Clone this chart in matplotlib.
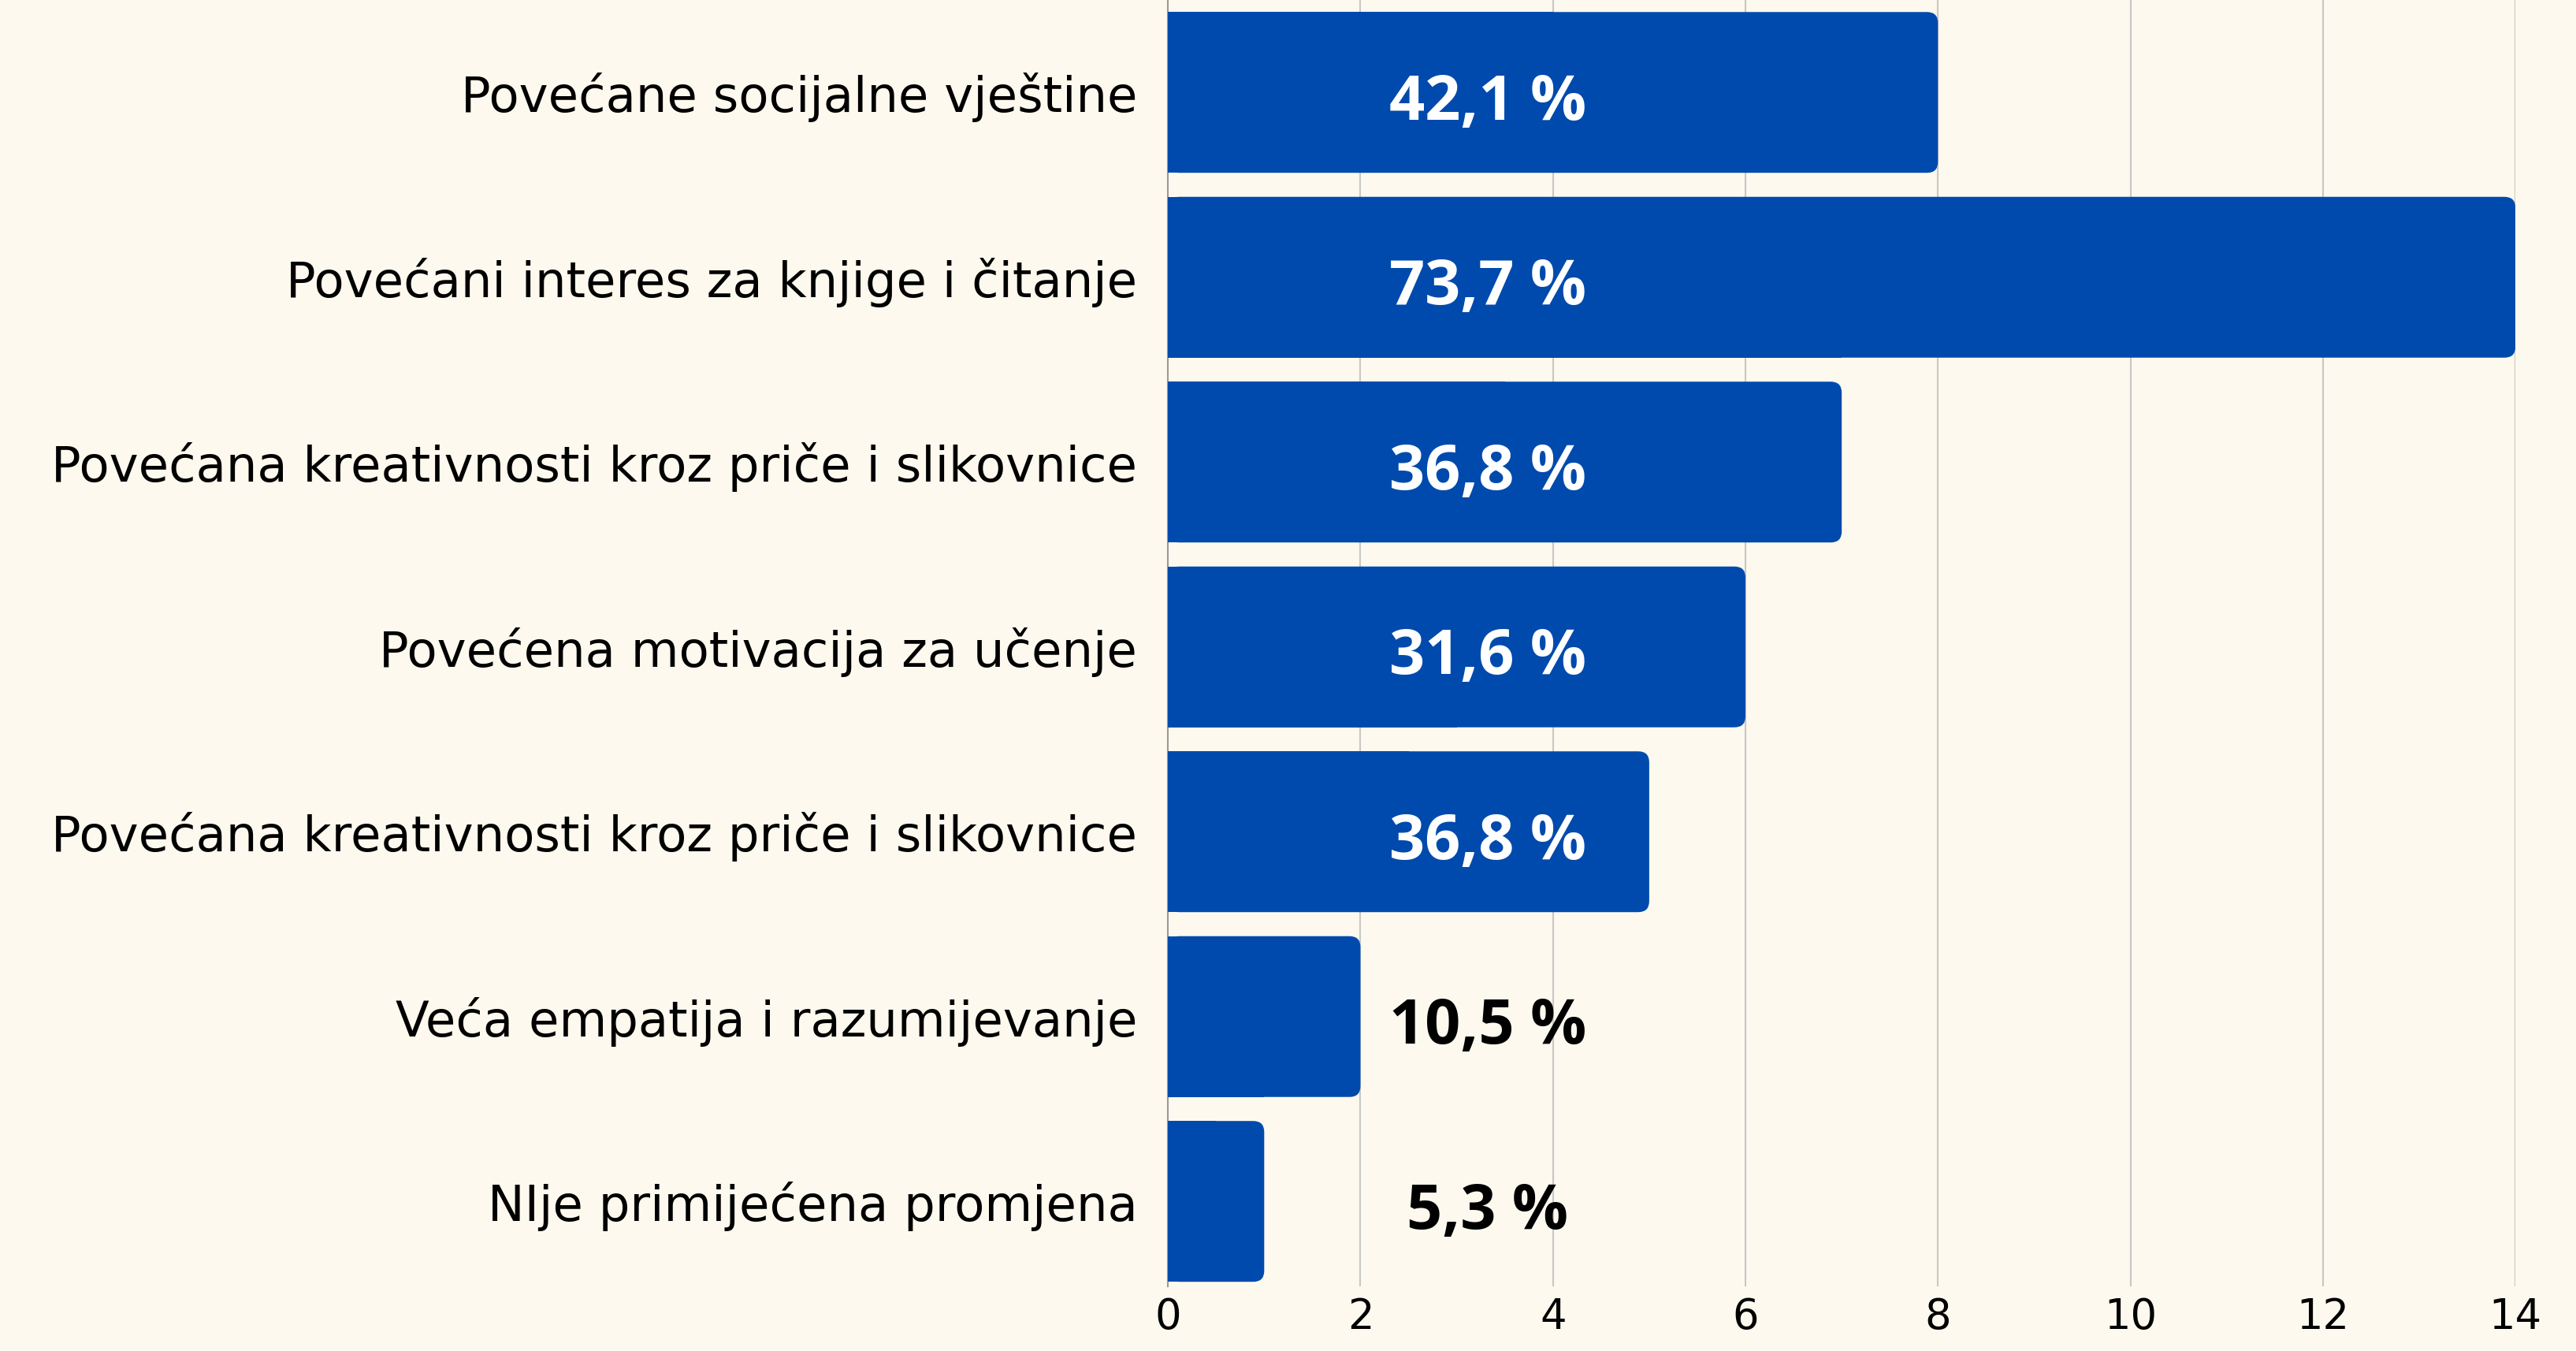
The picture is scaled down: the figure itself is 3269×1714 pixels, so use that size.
import matplotlib
matplotlib.use("Agg")
import matplotlib.pyplot as plt
from matplotlib.patches import FancyBboxPatch, Rectangle

categories = [
    "Povećane socijalne vještine",
    "Povećani interes za knjige i čitanje",
    "Povećana kreativnosti kroz priče i slikovnice",
    "Povećena motivacija za učenje",
    "Povećana kreativnosti kroz priče i slikovnice",
    "Veća empatija i razumijevanje",
    "NIje primijećena promjena",
]
counts = [8, 14, 7, 6, 5, 2, 1]
pct_labels = ["42,1 %", "73,7 %", "36,8 %", "31,6 %", "36,8 %", "10,5 %", "5,3 %"]
x_ticks = [0, 2, 4, 6, 8, 10, 12, 14]

bg = "#FDF9EE"
bar_color = "#004AAD"
bar_h = 0.87

fig = plt.figure(figsize=(32.69, 17.14), dpi=100, facecolor=bg)
ax = fig.add_axes([0.4534, 0.0478, 0.5231, 0.9522], facecolor=bg)

ax.set_xlim(0, 14)
ax.set_ylim(6.46, -0.5)

# px per data unit, used to keep the corner rounding circular
x_unit = 0.5231 * 3269 / 14
y_unit = 0.9522 * 1714 / 6.96
r = 14 / x_unit  # rounding radius in x data units

for i, v in enumerate(counts):
    y0 = i - bar_h / 2
    ax.add_patch(FancyBboxPatch((0, y0), v, bar_h,
                                boxstyle=f"round,pad=0,rounding_size={r}",
                                mutation_aspect=x_unit / y_unit,
                                fc=bar_color, ec="none", zorder=3))
    ax.add_patch(Rectangle((0, y0), v / 2, bar_h, fc=bar_color, ec="none", zorder=3))
    txt_color = "white" if v > 3.5 else "black"
    ax.text(3.32, i + 0.06, pct_labels[i], ha="center", va="center",
            fontsize=57, fontweight="bold", family="Open Sans",
            color=txt_color, zorder=4)

ax.set_yticks(range(len(categories)))
ax.set_yticklabels(categories, fontsize=45, family="DejaVu Sans")
ax.set_xticks(x_ticks)
ax.set_xticklabels([str(t) for t in x_ticks], fontsize=38, family="DejaVu Sans")
ax.tick_params(axis="both", length=0)
ax.tick_params(axis="y", pad=28)
ax.tick_params(axis="x", pad=9)

ax.grid(axis="x", color="#C8C8C4", linewidth=1.5, zorder=0)
ax.set_axisbelow(True)
for s in ["top", "right", "bottom"]:
    ax.spines[s].set_visible(False)
ax.spines["left"].set_color("#9A9A96")
ax.spines["left"].set_linewidth(1.5)

fig.savefig("out.png", dpi=100, facecolor=bg)
